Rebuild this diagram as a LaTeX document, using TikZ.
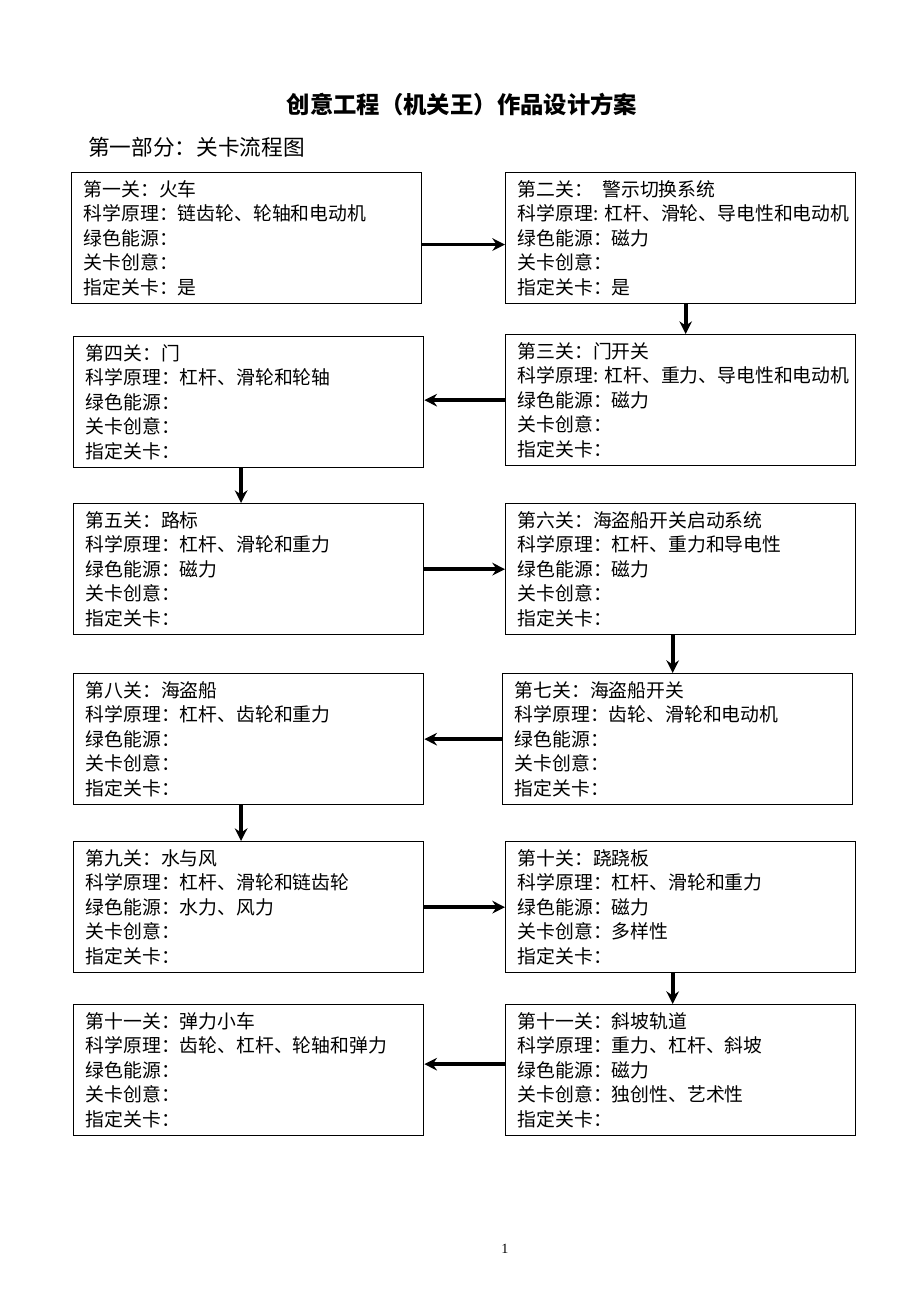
\documentclass[tikz,border=0pt]{standalone}
\usepackage{fontspec}
\setmainfont{Noto Sans CJK SC}
\newfontfamily\pagefont{Liberation Serif}
\usetikzlibrary{arrows.meta}

\begin{document}
\begin{tikzpicture}[x=0.025cm,y=-0.025cm,
	level/.style={draw,line width=0.9pt,anchor=north west,minimum width=8.75cm,minimum height=3.275cm,inner xsep=0.3cm,text width=8.15cm,align=left,font=\fontsize{13.4}{17.4}\selectfont},
	flow/.style={-{Stealth[length=9pt,width=9pt,inset=3pt]},line width=2.6pt}]
	\useasboundingbox (0,0) rectangle (920,1302);
	
	\node[font=\bfseries\fontsize{16.6}{20}\selectfont] (title) at (462,105) {创意工程（机关王）作品设计方案};
	\node[anchor=west,inner sep=0pt,font=\fontsize{15.4}{18}\selectfont] (part) at (88,147) {第一部分：关卡流程图};
	
	%levels
	\node[level] (g1) at (71,172) {第一关：火车\\科学原理：链齿轮、轮轴和电动机\\绿色能源：\\关卡创意：\\指定关卡：是};
	\node[level] (g2) at (505,172) {第二关：\hspace{0.5em}警示切换系统\\科学原理:~杠杆、滑轮、导电性和电动机\\绿色能源：磁力\\关卡创意：\\指定关卡：是};
	\node[level] (g3) at (505,334) {第三关：门开关\\科学原理:~杠杆、重力、导电性和电动机\\绿色能源：磁力\\关卡创意：\\指定关卡：};
	\node[level] (g4) at (73,336) {第四关：门\\科学原理：杠杆、滑轮和轮轴\\绿色能源：\\关卡创意：\\指定关卡：};
	\node[level] (g5) at (73,503) {第五关：路标\\科学原理：杠杆、滑轮和重力\\绿色能源：磁力\\关卡创意：\\指定关卡：};
	\node[level] (g6) at (505,503) {第六关：海盗船开关启动系统\\科学原理：杠杆、重力和导电性\\绿色能源：磁力\\关卡创意：\\指定关卡：};
	\node[level] (g7) at (502,673) {第七关：海盗船开关\\科学原理：齿轮、滑轮和电动机\\绿色能源：\\关卡创意：\\指定关卡：};
	\node[level] (g8) at (73,673) {第八关：海盗船\\科学原理：杠杆、齿轮和重力\\绿色能源：\\关卡创意：\\指定关卡：};
	\node[level] (g9) at (73,841) {第九关：水与风\\科学原理：杠杆、滑轮和链齿轮\\绿色能源：水力、风力\\关卡创意：\\指定关卡：};
	\node[level] (g10) at (505,841) {第十关：跷跷板\\科学原理：杠杆、滑轮和重力\\绿色能源：磁力\\关卡创意：多样性\\指定关卡：};
	\node[level] (g11b) at (505,1004) {第十一关：斜坡轨道\\科学原理：重力、杠杆、斜坡\\绿色能源：磁力\\关卡创意：独创性、艺术性\\指定关卡：};
	\node[level] (g11a) at (73,1004) {第十一关：弹力小车\\科学原理：齿轮、杠杆、轮轴和弹力\\绿色能源：\\关卡创意：\\指定关卡：};
	
	%flow
	\draw[flow] ([yshift=-0.16cm]g1.east) -- ([yshift=-0.16cm]g2.west);
	\draw[flow] ([xshift=0.125cm]g2.south) -- ([xshift=0.125cm]g3.north);
	\draw[flow] (g3.west) -- (g3.west -| g4.east);
	\draw[flow] ([xshift=-0.19cm]g4.south) -- ([xshift=-0.19cm]g5.north);
	\draw[flow] (g5.east) -- (g6.west);
	\draw[flow] ([xshift=-0.2cm]g6.south) -- ([xshift=-0.2cm]g6.south |- g7.north);
	\draw[flow] (g7.west) -- (g7.west -| g8.east);
	\draw[flow] ([xshift=-0.19cm]g8.south) -- ([xshift=-0.19cm]g9.north);
	\draw[flow] (g9.east) -- (g9.east -| g10.west);
	\draw[flow] ([xshift=-0.2cm]g10.south) -- ([xshift=-0.2cm]g11b.north);
	\draw[flow] ([yshift=0.15cm]g11b.west) -- ([yshift=0.15cm]g11b.west -| g11a.east);
	
	\node[font=\pagefont\fontsize{10}{12}\selectfont] (page) at (505,1249) {1};
\end{tikzpicture}
\end{document}
